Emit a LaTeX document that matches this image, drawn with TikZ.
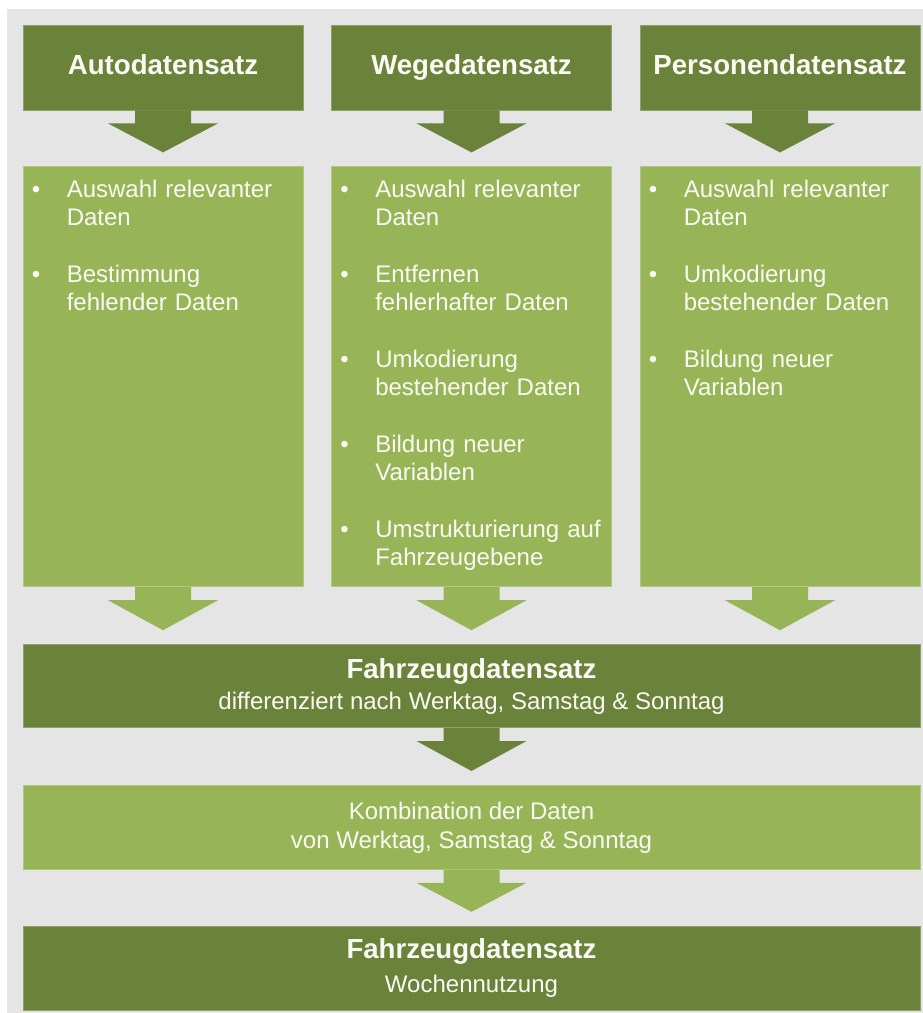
\documentclass[tikz,border=0pt]{standalone}
\usepackage{fontspec}
\setmainfont{Liberation Sans}
\usepackage{tikz}
\usetikzlibrary{positioning}
\usetikzlibrary{calc}
\definecolor{darkolive}{RGB}{107,130,59}
\definecolor{lightolive}{RGB}{151,181,87}
\definecolor{bggray}{RGB}{229,229,229}
\definecolor{textwhite}{RGB}{250,250,244}
\tikzset{
    headbox/.style={fill=darkolive, draw=darkolive!75!white, line width=0.8pt,
        minimum width=280pt, minimum height=85pt, inner sep=0pt, text=textwhite,
        text height=20pt, text depth=6pt, font=\fontsize{27.6}{33}\selectfont\bfseries},
    stepsbox/.style={fill=lightolive, draw=lightolive!75!white, line width=0.8pt,
        minimum width=280pt, minimum height=420pt, inner sep=0pt},
    listtext/.style={anchor=north west, inner sep=0pt, text width=265pt, align=left,
        text=textwhite, font=\fontsize{24}{27.5}\selectfont\setlength{\parskip}{30pt}},
    widebox/.style={fill=#1, draw=#1!75!white, line width=0.8pt,
        minimum width=897pt, inner sep=0pt, align=center, text=textwhite},
}
\newcommand{\bul}[1]{\par\noindent\hangindent=35pt\hangafter=1\makebox[35pt][l]{\textbullet}#1\par}
\newcommand{\bigtitle}[1]{{\fontsize{27.6}{30}\selectfont\bfseries #1}}
% Syntax: \blockarrow{colour}{from node}{to node}
\newcommand{\blockarrow}[3]{%
    \fill[#1] ($(#2.south)+(-28,0)$) -- ($(#2.south)+(28,0)$) -- ($(#2.south)+(28,13)$)
        -- ($(#2.south)+(55,13)$) -- ($(#2.south |- #3.north)+(0,-14)$)
        -- ($(#2.south)+(-55,13)$) -- ($(#2.south)+(-28,13)$) -- cycle;}
\begin{document}
\begin{tikzpicture}[x=1pt, y=-1pt]
	\useasboundingbox (0,0) rectangle (923,1013);
	\fill[bggray] (7,9) rectangle (923,1013);
	\node[headbox] (autohead) at (163,67.5) {Autodatensatz};
	\node[headbox] (wegehead) at (471.5,67.5) {Wegedatensatz};
	\node[headbox] (personhead) at (780,67.5) {Personendatensatz};
	\node[stepsbox, below=56pt of autohead] (autosteps) {};
	\node[stepsbox, below=56pt of wegehead] (wegesteps) {};
	\node[stepsbox, below=56pt of personhead] (personsteps) {};
	\node[listtext] (autolist) at ($(autosteps.north west)+(9,-26.5)$) {%
		\bul{Auswahl relevanter\newline Daten}
		\bul{Bestimmung\newline fehlender Daten}};
	\node[listtext] (wegelist) at ($(wegesteps.north west)+(9,-26.5)$) {%
		\bul{Auswahl relevanter\newline Daten}
		\bul{Entfernen\newline fehlerhafter Daten}
		\bul{Umkodierung\newline bestehender Daten}
		\bul{Bildung neuer\newline Variablen}
		\bul{Umstrukturierung auf\newline Fahrzeugebene}};
	\node[listtext] (personlist) at ($(personsteps.north west)+(9,-26.5)$) {%
		\bul{Auswahl relevanter\newline Daten}
		\bul{Umkodierung\newline bestehender Daten}
		\bul{Bildung neuer\newline Variablen}};
	\node[widebox=darkolive, minimum height=83pt, below=57pt of wegesteps,
		font=\fontsize{24}{31}\selectfont] (tagdata)
		{\bigtitle{Fahrzeugdatensatz}\\differenziert nach Werktag, Samstag \& Sonntag};
	\node[widebox=lightolive, minimum height=84pt, below=57pt of tagdata,
		font=\fontsize{24}{29}\selectfont] (kombi)
		{Kombination der Daten\\von Werktag, Samstag \& Sonntag};
	\node[widebox=darkolive, minimum height=84pt, below=56pt of kombi,
		font=\fontsize{24}{34}\selectfont] (wochedata)
		{\bigtitle{Fahrzeugdatensatz}\\Wochennutzung};
	\blockarrow{darkolive}{autohead}{autosteps}
	\blockarrow{darkolive}{wegehead}{wegesteps}
	\blockarrow{darkolive}{personhead}{personsteps}
	\blockarrow{lightolive}{autosteps}{tagdata}
	\blockarrow{lightolive}{wegesteps}{tagdata}
	\blockarrow{lightolive}{personsteps}{tagdata}
	\blockarrow{darkolive}{tagdata}{kombi}
	\blockarrow{lightolive}{kombi}{wochedata}
\end{tikzpicture}
\end{document}
